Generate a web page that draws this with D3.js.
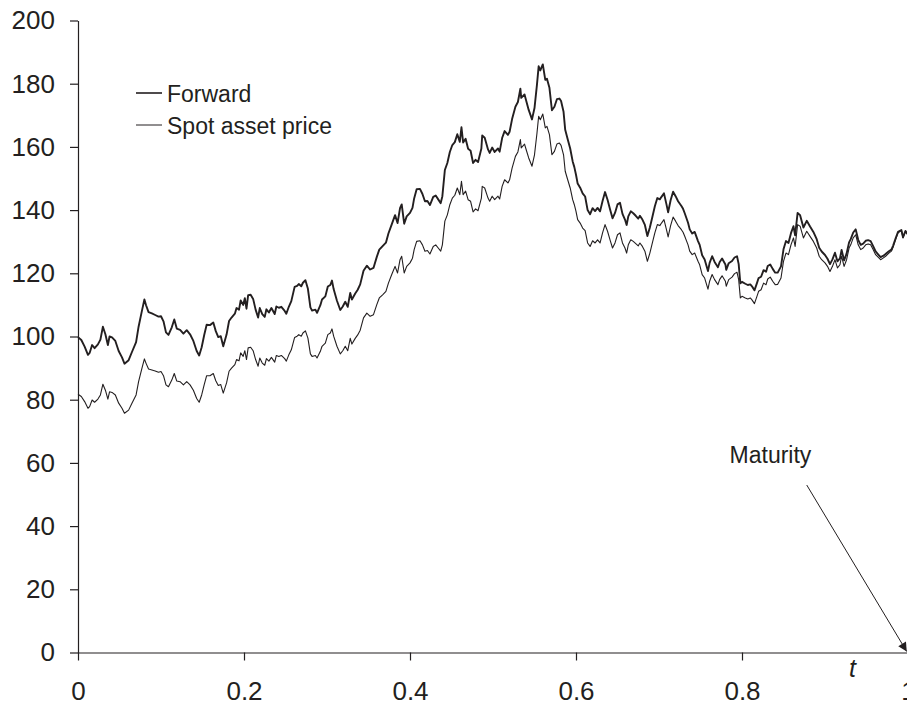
<html>
<head>
  <script src="https://d3js.org/d3.v7.min.js"></script>
  <style>
    body { margin: 0; background: #fff; }
    text { font-family: 'Liberation Sans', Arial, Helvetica, sans-serif; fill: #231f20; }
    .axis path, .axis line { stroke: #231f20; stroke-width: 1.2; }
    .axis text { font-size: 26px; }
  </style>
</head>
<body>
  <svg id="chart" width="907" height="705"></svg>
  <script>
    // time axis (fraction of the contract life)
    const tValues = [
      0,.004,.008,.012,.014,.017,.020,.024,.027,.030,.033,.036,.038,.041,.045,.049,.053,.056,.061,.065,.070,.073,.077,.080,.082,.085,.089,.093,.097,.100,.103,.106,.109,.113,.116,.119,.123,.127,.131,.135,.139,.143,.146,.149,.152,.155,.159,.163,.166,.169,.172,.175,
      .179,.182,.185,.189,.191,.194,.196,.199,.201,.203,.205,.208,.211,.214,.217,.219,.222,.225,.227,.230,.233,.237,.239,.242,.245,.249,.251,.254,.257,.261,.264,.266,.269,.271,.274,.277,.280,.282,.286,.288,.292,.294,.298,.301,.304,.306,.308,.312,.316,.319,.322,.325,.328,.330,.334,.337,
      .340,.344,.348,.352,.356,.360,.363,.367,.371,.374,.378,.382,.385,.388,.390,.393,.396,.400,.403,.405,.408,.412,.415,.418,.421,.424,.428,.431,.434,.437,.439,.442,.445,.448,.451,.454,.457,.460,.462,.464,.467,.470,.473,.476,.479,.482,.486,.487,.490,.494,.496,.499,.502,.506,.508,
      .511,.514,.518,.520,.523,.527,.530,.533,.534,.538,.540,.543,.547,.550,.553,.555,.557,.560,.563,.565,.568,.571,.574,.577,.580,.582,.585,.587,.590,.593,.596,.598,.600,.602,.605,.608,.611,.614,.617,.620,.623,.626,.629,.632,.635,.638,.641,.644,.647,.650,.653,.656,.659,.661,.663,.666,.669,.672,.675,
      .677,.680,.683,.686,.689,.692,.695,.698,.701,.703,.706,.709,.711,.714,.717,.720,.723,.727,.729,.731,.735,.737,.740,.743,.747,.749,.752,.755,.759,.761,.764,.767,.771,.773,.776,.780,.781,.784,.788,.791,.794,.796,.798,.800,.804,.807,.810,.812,.815,.818,.820,.823,.826,.829,.831,.834,.837,.840,.843,
      .847,.850,.853,.856,.859,.862,.864,.867,.870,.874,.878,.882,.886,.890,.893,.896,.900,.903,.906,.909,.912,.915,.918,.920,.923,.926,.929,.931,.934,.937,.940,.943,.946,.949,.952,.955,.958,.961,.964,.967,.970,.973,.977,.980,.982,.985,.988,.992,.994,.997,1
    ];

    const spotValues = [
      81.7,81.0,79.4,77.3,77.8,79.9,79.2,80.2,81.5,84.9,83.0,80.2,82.5,82.3,81.5,78.9,77.3,75.7,76.7,78.9,81.5,85.7,89.9,92.9,91.5,89.7,89.4,89.1,88.7,88.9,87.6,84.7,84.1,86.2,88.3,85.9,85.7,84.7,85.7,84.7,83.0,80.4,79.2,81.5,84.7,87.6,87.6,88.3,86.0,84.5,84.8,82.1,
      85.3,89.0,90.0,91.1,92.7,92.3,94.8,93.7,95.5,92.7,96.4,96.6,95.5,92.7,90.6,93.2,91.6,90.9,93.0,92.2,93.4,91.9,94.0,93.7,94.0,93.0,92.2,94.2,95.8,99.7,100.1,100.6,100.1,101.1,101.8,99.5,94.5,93.7,94.0,93.2,95.3,96.9,97.9,100.6,101.1,102.4,100.1,96.9,94.5,95.5,96.9,95.5,99.4,97.6,99.4,100.5,
      102.0,105.9,107.4,106.4,106.9,110.1,112.2,113.2,114.3,116.9,119.6,122.2,120.1,124.3,125.4,120.1,122.2,123.3,124.8,127.5,130.1,130.3,129.0,127.0,127.2,126.1,128.5,129.0,128.0,127.0,129.0,136.5,138.5,141.7,143.8,144.7,147.0,144.9,149.1,144.9,146.0,143.3,142.8,139.4,140.4,139.8,143.8,147.5,147.0,143.8,142.8,144.4,143.3,144.4,143.5,
      147.5,149.6,148.6,149.6,153.3,157.0,158.4,162.3,159.7,160.9,159.1,156.5,153.9,157.5,164.4,169.7,168.6,170.4,166.0,166.5,163.9,157.5,158.6,160.9,161.2,160.5,157.5,152.3,149.6,147.0,143.3,141.7,139.6,137.0,135.9,134.3,133.5,129.6,128.5,130.3,129.6,130.6,129.6,132.8,135.4,133.3,130.6,128.0,129.6,132.2,132.8,129.6,128.0,126.4,129.0,130.6,130.1,129.4,128.7,
      129.6,128.5,127.0,123.8,126.4,129.6,132.8,135.4,135.1,135.9,137.0,133.8,131.5,135.1,137.8,136.5,135.1,133.8,133.0,131.7,129.0,127.0,125.9,126.4,123.8,122.7,119.6,118.5,115.0,117.5,119.6,118.0,116.4,118.0,119.2,117.5,115.9,118.0,118.8,119.9,120.3,118.0,112.2,112.7,112.2,111.9,112.2,111.6,110.4,112.7,114.3,114.8,116.9,116.4,118.2,118.8,117.5,116.4,116.5,
      118.5,123.8,126.4,125.9,129.0,131.2,128.5,135.4,134.9,131.2,133.3,131.7,130.1,128.0,125.4,124.3,123.3,122.2,120.6,122.2,124.3,121.7,122.7,125.4,122.2,124.3,128.0,129.0,131.2,132.2,129.0,127.5,128.0,129.0,129.3,129.0,127.5,125.9,125.1,124.3,124.8,125.4,126.4,127.0,128.2,130.6,132.8,133.5,131.2,133.3,132.2
    ];

    const forwardValues = [
      99.8,98.9,96.8,94.2,94.8,97.3,96.3,97.5,99.0,103.1,100.7,97.3,100.0,99.7,98.6,95.4,93.4,91.4,92.5,95.1,98.2,103.1,108.1,111.7,109.9,107.7,107.3,106.8,106.3,106.4,104.8,101.3,100.5,102.9,105.4,102.5,102.1,100.9,102.0,100.7,98.6,95.4,94.0,96.6,100.4,103.7,103.6,104.4,101.7,99.8,100.1,96.9,
      100.6,104.9,106.0,107.2,109.0,108.5,111.4,110.0,112.1,108.8,113.1,113.2,111.9,108.5,106.0,109.0,107.1,106.2,108.6,107.6,109.0,107.1,109.5,109.1,109.4,108.1,107.2,109.4,111.2,115.7,116.0,116.6,115.9,117.0,117.8,115.1,109.2,108.2,108.5,107.5,109.9,111.7,112.7,115.8,116.3,117.7,115.0,111.3,108.4,109.5,111.0,109.4,113.8,111.7,113.6,114.8,
      116.5,120.8,122.4,121.2,121.7,125.2,127.5,128.6,129.7,132.6,135.5,138.4,135.9,140.6,141.8,135.7,138.0,139.1,140.7,143.7,146.6,146.7,145.1,142.8,142.9,141.6,144.2,144.6,143.4,142.2,144.4,152.7,154.9,158.4,160.6,161.5,164.0,161.6,166.2,161.4,162.6,159.4,158.8,154.9,155.9,155.2,159.5,163.6,162.9,159.2,158.1,159.8,158.4,159.5,158.5,
      162.8,165.0,163.8,164.8,168.8,172.7,174.2,178.4,175.5,176.6,174.6,171.7,168.7,172.3,179.8,185.5,184.2,186.1,181.2,181.6,178.7,171.6,172.7,175.1,175.3,174.5,171.1,165.4,162.4,159.5,155.4,153.6,151.2,148.4,147.1,145.3,144.3,140.0,138.7,140.6,139.7,140.7,139.6,142.9,145.7,143.3,140.3,137.4,139.1,141.8,142.3,138.8,137.0,135.3,138.0,139.6,139.0,138.2,137.3,
      138.2,137.0,135.3,131.8,134.5,137.8,141.2,143.8,143.4,144.2,145.3,141.8,139.3,143.1,145.8,144.4,142.8,141.3,140.4,139.0,136.0,133.9,132.6,133.1,130.2,129.0,125.7,124.4,120.7,123.3,125.4,123.6,121.9,123.5,124.7,122.8,121.1,123.2,123.9,125.0,125.4,122.9,116.8,117.3,116.7,116.3,116.5,115.9,114.6,116.9,118.5,118.9,121.0,120.5,122.3,122.8,121.4,120.2,120.2,
      122.2,127.6,130.2,129.6,132.7,134.9,132.0,139.1,138.4,134.5,136.6,134.8,133.1,130.8,128.1,126.9,125.8,124.6,122.9,124.4,126.5,123.8,124.7,127.4,124.1,126.2,129.8,130.8,132.9,133.9,130.6,129.0,129.4,130.3,130.5,130.2,128.6,126.9,126.0,125.1,125.5,126.1,127.0,127.5,128.7,131.0,133.1,133.7,131.4,133.4,132.2
    ];

    const xTicks = [0, 0.2, 0.4, 0.6, 0.8, 1];
    const yTicks = [0, 20, 40, 60, 80, 100, 120, 140, 160, 180, 200];
    const seriesNames = ["Forward", "Spot asset price"];

    const svg = d3.select("svg#chart");
    const width = +svg.attr("width");
    const height = +svg.attr("height");
    const margin = { top: 20.5, right: -1, bottom: 52.5, left: 78 };

    const xScale = d3.scaleLinear().domain([0, 1]).range([margin.left, width - margin.right]);
    const yScale = d3.scaleLinear().domain([0, 200]).range([height - margin.bottom, margin.top]);

    // axes
    svg.append("g")
      .attr("class", "axis")
      .attr("transform", "translate(0," + yScale(0) + ")")
      .call(d3.axisBottom(xScale).tickValues(xTicks).tickSize(8).tickSizeOuter(0).tickPadding(21)
        .tickFormat(d => d3.format("")(d)));

    svg.append("g")
      .attr("class", "axis")
      .attr("transform", "translate(" + xScale(0) + ",0)")
      .call(d3.axisLeft(yScale).tickValues(yTicks).tickSize(8).tickSizeOuter(0).tickPadding(15));

    // lines
    const rows = tValues.map((t, i) => ({ t: t, s: spotValues[i], f: forwardValues[i] }));

    const spotLine = d3.line().x(d => xScale(d.t)).y(d => yScale(d.s));
    const fwdLine = d3.line().x(d => xScale(d.t)).y(d => yScale(d.f));

    svg.append("path").datum(rows)
      .attr("d", spotLine)
      .attr("fill", "none").attr("stroke", "#231f20").attr("stroke-width", 1.1)
      .attr("stroke-linejoin", "round");

    svg.append("path").datum(rows)
      .attr("d", fwdLine)
      .attr("fill", "none").attr("stroke", "#231f20").attr("stroke-width", 1.9)
      .attr("stroke-linejoin", "round");

    // legend
    const legend = svg.append("g").attr("transform", "translate(136,93)");
    seriesNames.forEach((name, i) => {
      const g = legend.append("g").attr("transform", `translate(0, ${i * 32})`);
      g.append("line").attr("x1", 0).attr("x2", 26).attr("y1", 0).attr("y2", 0)
        .attr("stroke", "#231f20").attr("stroke-width", i === 0 ? 1.6 : 1.0);
      g.append("text").attr("x", 31).attr("y", 8.5).attr("font-size", "23px").text(name);
    });

    // maturity annotation
    svg.append("defs").append("marker")
      .attr("id", "arrow").attr("viewBox", "0 0 10 10")
      .attr("refX", 10).attr("refY", 5)
      .attr("markerWidth", 13).attr("markerHeight", 9)
      .attr("markerUnits", "userSpaceOnUse")
      .attr("orient", "auto")
      .append("path").attr("d", "M0,0 L10,5 L0,10 z").attr("fill", "#231f20");

    svg.append("line")
      .attr("x1", xScale(0.878)).attr("y1", yScale(53))
      .attr("x2", xScale(0.9985)).attr("y2", yScale(0.3))
      .attr("stroke", "#231f20").attr("stroke-width", 1)
      .attr("marker-end", "url(#arrow)");

    svg.append("text")
      .attr("x", xScale(0.785)).attr("y", yScale(60))
      .attr("font-size", "23px")
      .text("Maturity");

    svg.append("text")
      .attr("x", xScale(0.933)).attr("y", yScale(-7.6))
      .attr("font-size", "25px").attr("font-style", "italic")
      .attr("text-anchor", "middle")
      .text("t");
  </script>
</body>
</html>
